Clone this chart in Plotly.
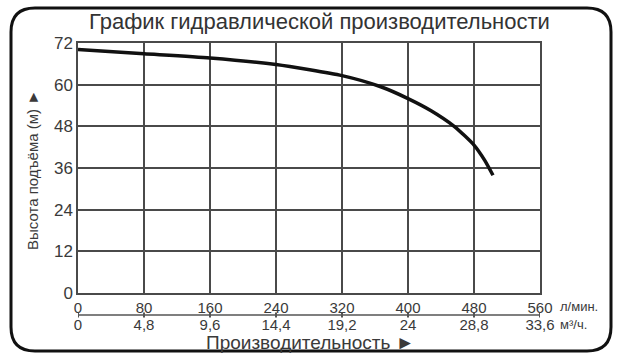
import plotly.graph_objects as go

# ---- data ----
flow_lpm = [0, 80, 160, 240, 320, 367, 400, 428, 456, 480, 493, 503]
head_m = [70.1, 68.9, 67.7, 65.8, 62.6, 59.4, 56.0, 52.5, 48.0, 42.6, 38.2, 33.9]

lpm_ticks = [0, 80, 160, 240, 320, 400, 480, 560]
lpm_labels = ["0", "80", "160", "240", "320", "400", "480", "560"]
m3h_labels = ["0", "4,8", "9,6", "14,4", "19,2", "24", "28,8", "33,6"]
head_ticks = [0, 12, 24, 36, 48, 60, 72]

title_text = "График гидравлической производительности"
x_title = "Производительность ►"
y_title = "Высота подъёма (м) ►"
unit_lpm = "л/мин."
unit_m3h = "м³/ч."

# ---- layout geometry (pixels) ----
W, H = 624, 358
ML, MR, MT, MB = 78, 84, 43, 10
PW = W - ML - MR
PH = H - MT - MB
plot_bottom = 293


def px(xp):
    return (xp - ML) / PW


def py(yp):
    return (H - MB - yp) / PH


FONT = "Liberation Sans, Arial, sans-serif"
TXT = "#3a3a3a"
GRID = "#4a4a4a"
XTICKSZ = 15
YTICKSZ = 17

fig = go.Figure()
fig.add_trace(go.Scatter(
    x=flow_lpm, y=head_m, mode="lines",
    line=dict(color="#111111", width=3.5, shape="spline", smoothing=0.6),
    showlegend=False, hoverinfo="skip"))
# invisible trace to activate secondary x axis
fig.add_trace(go.Scatter(
    x=flow_lpm, y=head_m, xaxis="x2", mode="lines",
    line=dict(color="rgba(0,0,0,0)", width=0),
    showlegend=False, hoverinfo="skip"))

dom0 = py(plot_bottom)

fig.update_layout(
    width=W, height=H,
    margin=dict(l=ML, r=MR, t=MT, b=MB, autoexpand=False),
    paper_bgcolor="white", plot_bgcolor="white",
    font=dict(family=FONT, color=TXT),
    xaxis=dict(
        range=[0, 560], tickvals=lpm_ticks, ticktext=lpm_labels,
        showgrid=True, gridcolor=GRID, gridwidth=1.5,
        showline=True, linecolor=GRID, linewidth=1.5, mirror=True,
        ticks="", tickfont=dict(size=XTICKSZ, color=TXT, family=FONT),
        zeroline=False, fixedrange=True, automargin=False,
    ),
    xaxis2=dict(
        range=[0, 560], tickvals=lpm_ticks, ticktext=m3h_labels,
        overlaying="x", anchor="free", position=py(313.5), side="bottom",
        showgrid=False, showline=False, ticks="",
        tickfont=dict(size=XTICKSZ, color=TXT, family=FONT),
        zeroline=False, fixedrange=True, automargin=False,
    ),
    yaxis=dict(
        range=[0, 72], tickvals=head_ticks, domain=[dom0, 1],
        showgrid=True, gridcolor=GRID, gridwidth=1.5,
        showline=True, linecolor=GRID, linewidth=1.5, mirror=True,
        ticks="", tickfont=dict(size=YTICKSZ, color=TXT, family=FONT),
        zeroline=False, fixedrange=True, automargin=False,
    ),
)

# separator line between the two scales, with small tick marks
line_y = py(315)
fig.add_shape(type="line", xref="x", yref="paper", x0=lpm_ticks[0], x1=lpm_ticks[-1],
              y0=line_y, y1=line_y, line=dict(color="#555555", width=1.5))
for v in lpm_ticks:
    fig.add_shape(type="line", xref="x", yref="paper", x0=v, x1=v,
                  y0=py(317.5), y1=py(312.5), line=dict(color="#555555", width=2))

ann = [
    dict(text=title_text, x=px(319), y=py(21), font=dict(size=22, color="#333333")),
    dict(text=x_title, x=px(310), y=py(342), font=dict(size=19, color=TXT)),
    dict(text=y_title, x=px(32), y=py(170), textangle=-90, font=dict(size=15, color=TXT)),
    dict(text=unit_lpm, x=px(558), y=py(306), xanchor="left", font=dict(size=13, color=TXT)),
    dict(text=unit_m3h, x=px(558), y=py(324), xanchor="left", font=dict(size=13, color=TXT)),
]
for a in ann:
    a.setdefault("xanchor", "center")
    fig.add_annotation(xref="paper", yref="paper", yanchor="middle",
                       showarrow=False, **a)

# rounded frame
x0, x1, y0, y1, r = 11, 611, 8, 351, 24
X0, X1, XR0, XR1 = px(x0), px(x1), px(x0 + r), px(x1 - r)
Y0, Y1, YR0, YR1 = py(y0), py(y1), py(y0 + r), py(y1 - r)
path = (f"M {XR0} {Y0} L {XR1} {Y0} Q {X1} {Y0} {X1} {YR0} "
        f"L {X1} {YR1} Q {X1} {Y1} {XR1} {Y1} "
        f"L {XR0} {Y1} Q {X0} {Y1} {X0} {YR1} "
        f"L {X0} {YR0} Q {X0} {Y0} {XR0} {Y0} Z")
fig.add_shape(type="path", path=path, xref="paper", yref="paper",
              line=dict(color="#111111", width=3), layer="above")

fig.write_html("out.html")
